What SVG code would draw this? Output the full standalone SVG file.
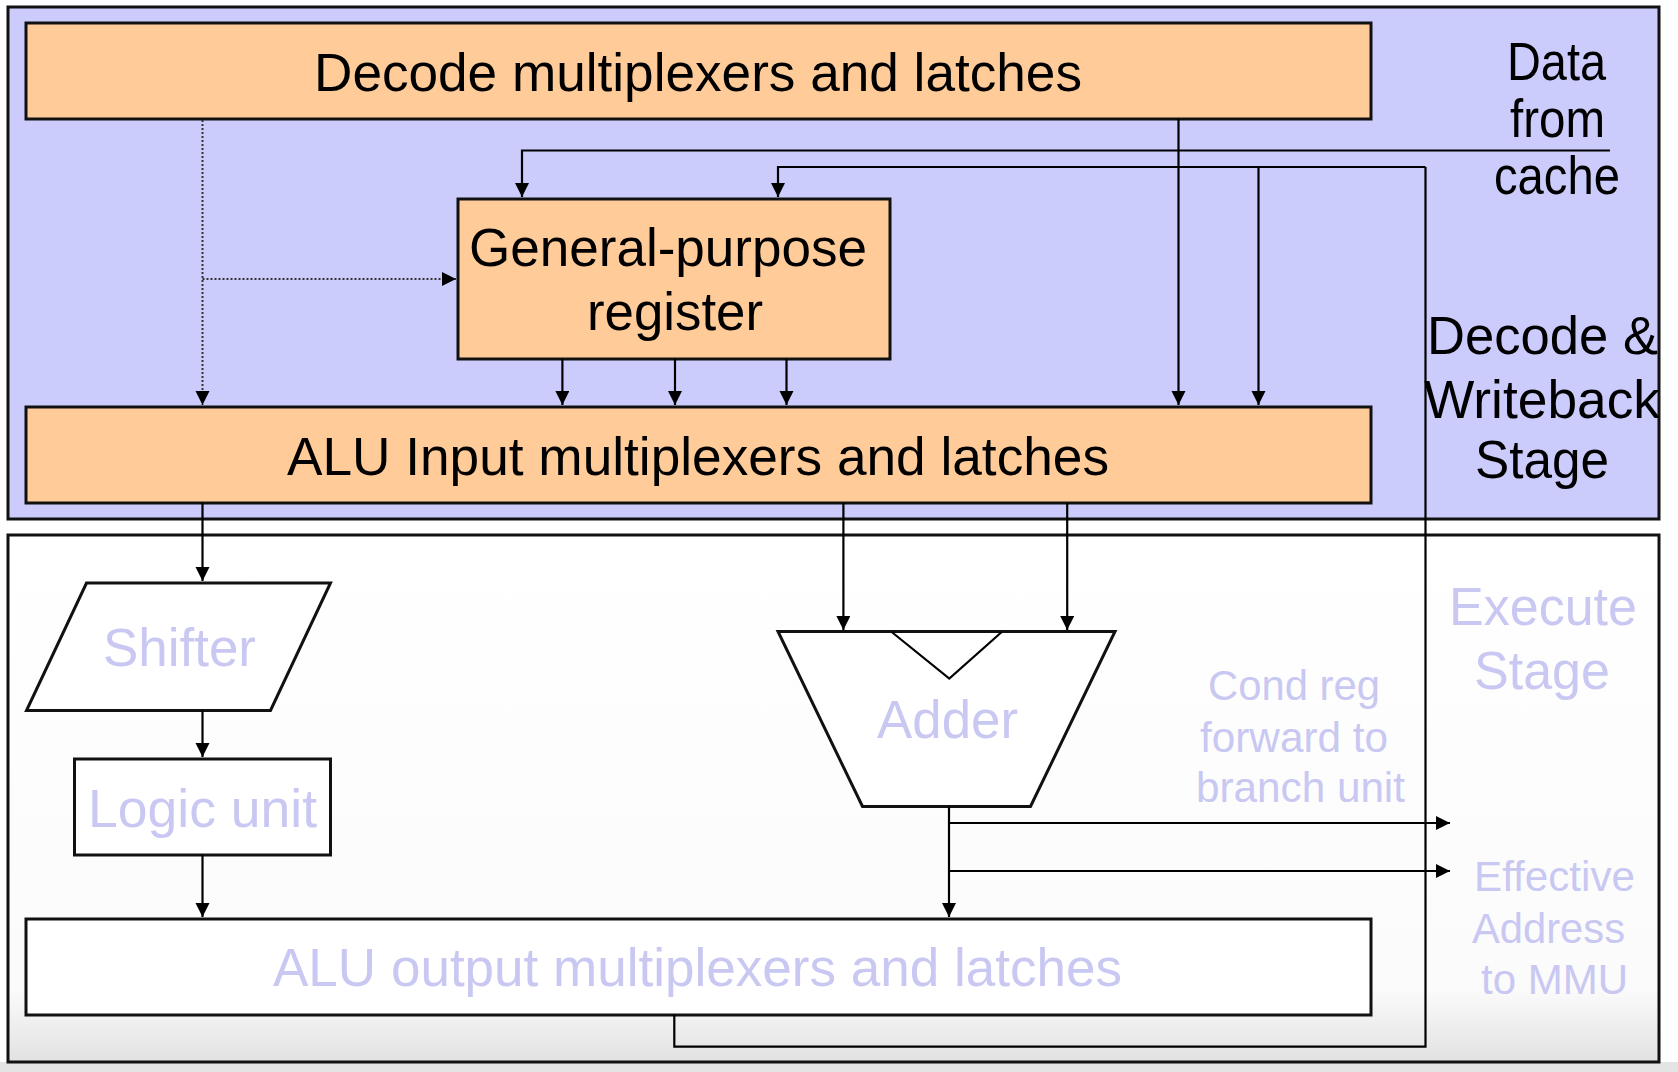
<svg xmlns="http://www.w3.org/2000/svg" width="1678" height="1072" viewBox="0 0 1678 1072">
<style>
.stage{stroke:#111;stroke-width:3}
.box{fill:#ffcc99;stroke:#111;stroke-width:3}
.wbox{fill:#fff;stroke:#111;stroke-width:3}
.t{font-family:"Liberation Sans",Arial,sans-serif;font-size:53px;fill:#000}
.lt{font-family:"Liberation Sans",Arial,sans-serif;font-size:53px;fill:#c8c8f2}
.sm{font-size:42px}
.w{fill:none;stroke:#000;stroke-width:2.2}
.dot{fill:none;stroke:#333;stroke-width:2;stroke-dasharray:2 2}
</style>
<defs>
<marker id="ah" markerUnits="userSpaceOnUse" markerWidth="16" markerHeight="16" refX="14" refY="7" orient="auto">
<path d="M0,0 L14,7 L0,14 z" fill="#000"/>
</marker>
<linearGradient id="exg" x1="0" y1="0" x2="0" y2="1">
<stop offset="0" stop-color="#ffffff"/>
<stop offset="0.86" stop-color="#fbfbfb"/>
<stop offset="1" stop-color="#e2e2e2"/>
</linearGradient>
</defs>
<rect width="1678" height="1072" fill="#ffffff"/>
<rect x="0" y="1062" width="1678" height="10" fill="#e4e4e4"/>

<g id="decode-stage">
<rect class="stage" x="8" y="7" width="1651" height="512" fill="#ccccfc"/>
<text class="t" x="1427" y="354" textLength="231" lengthAdjust="spacingAndGlyphs" font-size="52">Decode &amp;</text>
<text class="t" x="1424" y="418" textLength="236" lengthAdjust="spacingAndGlyphs" font-size="52">Writeback</text>
<text class="t" x="1475" y="478" textLength="134" lengthAdjust="spacingAndGlyphs" font-size="52">Stage</text>
</g>

<g id="execute-stage">
<rect class="stage" x="8" y="535" width="1651" height="527" fill="url(#exg)"/>
<text class="lt" x="1449" y="625" textLength="188" lengthAdjust="spacingAndGlyphs">Execute</text>
<text class="lt" x="1474" y="689" textLength="136" lengthAdjust="spacingAndGlyphs">Stage</text>
</g>

<g id="data-from-cache">
<text class="t" x="1507" y="80" textLength="99" lengthAdjust="spacingAndGlyphs" font-size="47">Data</text>
<text class="t" x="1510" y="137" textLength="95" lengthAdjust="spacingAndGlyphs" font-size="47">from</text>
<text class="t" x="1494" y="194" textLength="126" lengthAdjust="spacingAndGlyphs" font-size="47">cache</text>
</g>

<g id="decode-mux">
<rect class="box" x="26" y="23" width="1345" height="96"/>
<text class="t" x="314" y="91" textLength="768" lengthAdjust="spacingAndGlyphs">Decode multiplexers and latches</text>
</g>

<g id="gpr">
<rect class="box" x="458" y="199" width="432" height="160"/>
<text class="t" x="469" y="266" textLength="398" lengthAdjust="spacingAndGlyphs">General-purpose</text>
<text class="t" x="587" y="330" textLength="176" lengthAdjust="spacingAndGlyphs">register</text>
</g>

<g id="alu-input">
<rect class="box" x="26" y="407" width="1345" height="96"/>
<text class="t" x="287" y="475" textLength="822" lengthAdjust="spacingAndGlyphs">ALU Input multiplexers and latches</text>
</g>

<g id="shifter">
<polygon class="wbox" points="86.5,583 330.5,583 270.5,710.5 26.5,710.5"/>
<text class="lt" x="103" y="666" textLength="153" lengthAdjust="spacingAndGlyphs">Shifter</text>
</g>

<g id="logic-unit">
<rect class="wbox" x="74.5" y="759" width="256" height="96"/>
<text class="lt" x="88" y="827" textLength="229" lengthAdjust="spacingAndGlyphs">Logic unit</text>
</g>

<g id="adder">
<polygon class="wbox" points="778,631.5 1115,631.5 1030.5,806.5 862.5,806.5"/>
<polyline class="w" points="891.7,632 949.3,678.5 1001.7,632" stroke-width="3"/>
<text class="lt" x="877" y="738" textLength="141" lengthAdjust="spacingAndGlyphs">Adder</text>
</g>

<g id="alu-output">
<rect class="wbox" x="26" y="919" width="1345" height="96"/>
<text class="lt" x="273" y="986" textLength="849" lengthAdjust="spacingAndGlyphs">ALU output multiplexers and latches</text>
</g>

<g id="cond-reg-label">
<text class="lt sm" x="1208" y="700" textLength="172" lengthAdjust="spacingAndGlyphs">Cond reg</text>
<text class="lt sm" x="1200" y="752" textLength="188" lengthAdjust="spacingAndGlyphs">forward to</text>
<text class="lt sm" x="1196" y="802" textLength="209" lengthAdjust="spacingAndGlyphs">branch unit</text>
</g>

<g id="ea-label">
<text class="lt sm" x="1474" y="891" textLength="161" lengthAdjust="spacingAndGlyphs">Effective</text>
<text class="lt sm" x="1472" y="943" textLength="153" lengthAdjust="spacingAndGlyphs">Address</text>
<text class="lt sm" x="1481" y="994" textLength="147" lengthAdjust="spacingAndGlyphs">to MMU</text>
</g>

<g id="connectors">
<path class="dot" d="M202.5,120 V405" marker-end="url(#ah)"/>
<path class="dot" d="M202.5,279 H456" marker-end="url(#ah)"/>
<path class="w" d="M1610,150.5 H522 V197" marker-end="url(#ah)"/>
<path class="w" d="M1425.5,167 H778 V197" marker-end="url(#ah)"/>
<path class="w" d="M674.3,1015 V1046.7 H1425.5 V167"/>
<path class="w" d="M1178.5,119 V405" marker-end="url(#ah)"/>
<path class="w" d="M1258.5,167 V405" marker-end="url(#ah)"/>
<path class="w" d="M562.4,359 V405" marker-end="url(#ah)"/>
<path class="w" d="M675,359 V405" marker-end="url(#ah)"/>
<path class="w" d="M786.5,359 V405" marker-end="url(#ah)"/>
<path class="w" d="M202.5,503 V581" marker-end="url(#ah)"/>
<path class="w" d="M843.4,503 V630" marker-end="url(#ah)"/>
<path class="w" d="M1067.2,503 V630" marker-end="url(#ah)"/>
<path class="w" d="M202.5,711 V757" marker-end="url(#ah)"/>
<path class="w" d="M202.5,855 V917" marker-end="url(#ah)"/>
<path class="w" d="M949,807 V917" marker-end="url(#ah)"/>
<path class="w" d="M949,823 H1450" marker-end="url(#ah)"/>
<path class="w" d="M949,871 H1450" marker-end="url(#ah)"/>
</g>
</svg>
